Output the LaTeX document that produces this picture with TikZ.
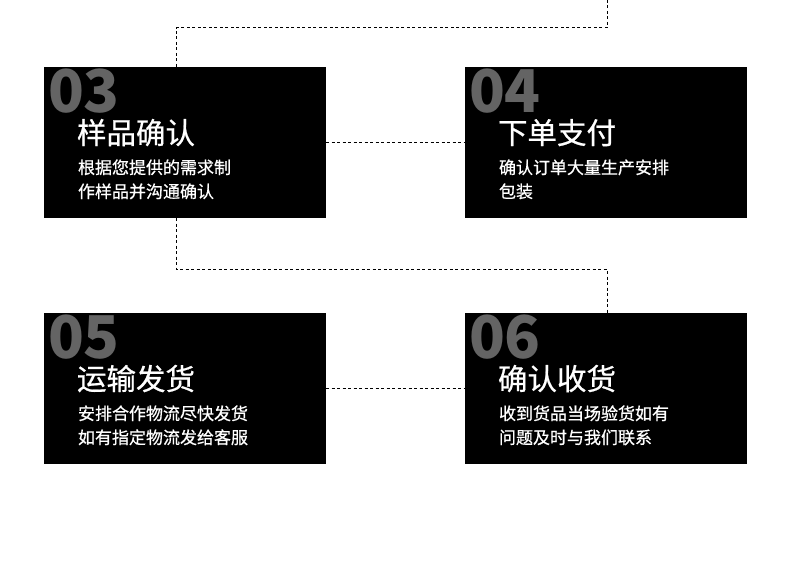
\documentclass[tikz,border=0pt]{standalone}
\usepackage{fontspec}
\newfontfamily\cjk{Noto Sans CJK SC}
\newfontfamily\cjkmed{Noto Sans CJK SC}[FakeBold=0.7]
\usetikzlibrary{positioning}
\definecolor{numgray}{HTML}{646464}

\begin{document}
\begin{tikzpicture}[x=1pt, y=1pt,
  stepbox/.style={fill=black, minimum width=282pt, minimum height=151pt, inner sep=0pt},
  num/.style={anchor=base west, inner sep=0pt, text=numgray, font=\cjk\bfseries\fontsize{59}{59}\selectfont},
  title/.style={anchor=base west, inner sep=0pt, text=white, font=\cjkmed\fontsize{29.5}{29.5}\selectfont},
  body/.style={anchor=base west, inner sep=0pt, text=white, align=left, font=\cjkmed\fontsize{17}{24}\selectfont},
  link/.style={draw=black, line width=1pt, dash pattern=on 3pt off 2.5pt}]
\useasboundingbox (0,0) rectangle (790,566);
% steps
\node[stepbox] (s3) at (185,423.5) {};
\node[stepbox] (s4) at (606,423.5) {};
\node[stepbox] (s5) at (185,177.5) {};
\node[stepbox] (s6) at (606,177.5) {};
% texts
\node[num] (n3) at ([shift={(4,-46)}]s3.north west) {03};
\node[title] (t3) at ([shift={(33,-77)}]s3.north west) {样品确认};
\node[body] (b3) at ([shift={(34,-131)}]s3.north west) {根据您提供的需求制\\作样品并沟通确认};
\node[num] (n4) at ([shift={(4,-46)}]s4.north west) {04};
\node[title] (t4) at ([shift={(33,-77)}]s4.north west) {下单支付};
\node[body] (b4) at ([shift={(34,-131)}]s4.north west) {确认订单大量生产安排\\包装};
\node[num] (n5) at ([shift={(4,-46)}]s5.north west) {05};
\node[title] (t5) at ([shift={(33,-77)}]s5.north west) {运输发货};
\node[body] (b5) at ([shift={(34,-131)}]s5.north west) {安排合作物流尽快发货\\如有指定物流发给客服};
\node[num] (n6) at ([shift={(4,-46)}]s6.north west) {06};
\node[title] (t6) at ([shift={(33,-77)}]s6.north west) {确认收货};
\node[body] (b6) at ([shift={(34,-131)}]s6.north west) {收到货品当场验货如有\\问题及时与我们联系};
% dashed links
\coordinate (top) at (607,566);
\coordinate (k1) at (176,538);
\coordinate (k2) at (176,297);
\draw[link] (top) -- (top |- k1) -- (k1) -- (k1 |- s3.north);
\draw[link] (s3.east) -- (s4.west);
\draw[link] (k2 |- s3.south) -- (k2) -- (top |- k2) -- (top |- s6.north);
\draw[link] (s5.east) -- (s6.west);
\end{tikzpicture}
\end{document}
